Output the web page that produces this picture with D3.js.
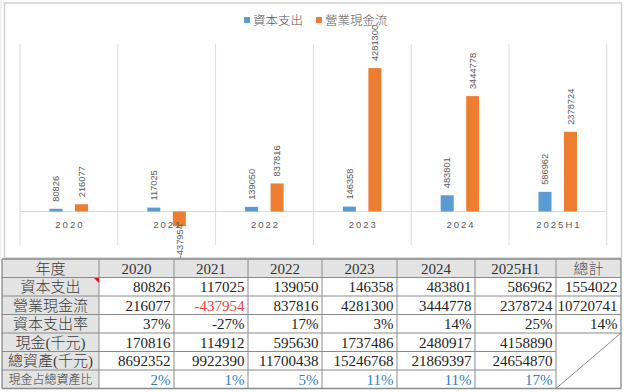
<!DOCTYPE html>
<html><head><meta charset="utf-8">
<script src="https://cdn.jsdelivr.net/npm/d3@7"></script>
<style>body{margin:0;background:#fff}svg{display:block}</style>
</head><body><svg id="c" width="624" height="392"></svg>
<script>
// ---------- data ----------
const categories = ["2020","2021","2022","2023","2024","2025H1"];
const seriesNames = ["資本支出","營業現金流"];
const capex = [80826,117025,139050,146358,483801,586962];
const opCashFlow = [216077,-437954,837816,4281300,3444778,2378724];
const capexRate = ["37%","-27%","17%","3%","14%","25%"];
const cash = [170816,114912,595630,1737486,2480917,4158890];
const totalAssets = [8692352,9922390,11700438,15246768,21869397,24654870];
const cashRatio = ["2%","1%","5%","11%","11%","17%"];
const totalColumn = ["1554022","10720741","14%"];
const headerLabels = ["年度", ...categories, "總計"];
const rowLabels = ["資本支出","營業現金流","資本支出率","現金(千元)","總資產(千元)","現金占總資產比"];
const yDomain = [-1000000, 5000000];

// ---------- chart ----------
const svg = d3.select("#c");
const colors = {"資本支出":"#5b9bd5","營業現金流":"#ed7d31"};
const gray = "#595959";

// outer chart frame
svg.append("line").attr("x1",1).attr("x2",1).attr("y1",0).attr("y2",258).attr("stroke","#e3e3e3");
svg.append("rect").attr("x",4.5).attr("y",3).attr("width",617).attr("height",255)
  .attr("fill","#fff").attr("stroke","#d0d0d0").attr("stroke-width",1.5);

const x0 = d3.scaleBand().domain(categories).range([20, 606.8]);
const bw = x0.bandwidth();
const x1 = d3.scaleBand().domain(seriesNames).range([bw*0.3016, bw*0.6953]).paddingInner(0.49);
const y = d3.scaleLinear().domain(yDomain).range([245, 44]);

// category separator gridlines
const bounds = categories.map(c => x0(c)).concat([x0.range()[1]]);
svg.append("g").selectAll("line").data(bounds).join("line")
  .attr("x1",d=>d).attr("x2",d=>d).attr("y1",y(yDomain[1])).attr("y2",y(yDomain[0]))
  .attr("stroke","#d9d9d9").attr("stroke-width",1);
// zero axis
svg.append("line").attr("x1",x0.range()[0]).attr("x2",x0.range()[1])
  .attr("y1",y(0)).attr("y2",y(0)).attr("stroke","#d9d9d9");

const seriesData = [capex, opCashFlow];
const flat = [];
categories.forEach((c,i)=>seriesNames.forEach((s,j)=>flat.push({c,s,v:seriesData[j][i]})));

svg.append("g").selectAll("rect").data(flat).join("rect")
  .attr("x",d=>x0(d.c)+x1(d.s)).attr("width",x1.bandwidth())
  .attr("y",d=>y(Math.max(0,d.v))).attr("height",d=>Math.abs(y(d.v)-y(0)))
  .attr("fill",d=>colors[d.s]);

// category labels
svg.append("g").selectAll("text").data(categories).join("text")
  .attr("x",d=>x0(d)+bw/2+1).attr("y",y(0)+16.5)
  .attr("text-anchor","middle").attr("font-family","Liberation Sans, Arial, sans-serif")
  .attr("font-size",9.5).attr("letter-spacing","2px").attr("fill",gray).text(d=>d);

// value labels
svg.append("g").selectAll("text").data(flat).join("text")
  .attr("transform",d=>{
    const cx = x0(d.c)+x1(d.s)+x1.bandwidth()/2;
    const yy = d.v>=0 ? y(d.v)-7 : y(d.v)-2;
    return `translate(${cx},${yy}) rotate(-90)`;})
  .attr("text-anchor",d=>d.v>=0?"start":"end").attr("dy","0.35em")
  .attr("font-family","Liberation Sans, Arial, sans-serif").attr("font-size",9.3)
  .attr("fill",gray).text(d=>d.v);

// legend
const lg = svg.append("g");
const legendX = [244, 316];
seriesNames.forEach((s,i)=>{
  lg.append("rect").attr("x",legendX[i]).attr("y",17).attr("width",6).attr("height",6).attr("fill",colors[s]);
  lg.append("text").attr("x",legendX[i]+9).attr("y",24.5)
    .attr("font-family","Liberation Serif, Noto Sans CJK TC, serif").attr("font-size",12.5)
    .attr("font-weight",300).attr("fill",gray).text(s);
});

// ---------- table ----------
const colEdges = [2, 99, 174, 248, 322, 397, 475, 556, 621];
const rowTop = 259, rowH = 18.5, nRows = 7;
const rowEdges = d3.range(nRows+1).map(i=>rowTop+i*rowH);
const tf = "Liberation Serif, Noto Sans CJK TC, serif";
const tg = svg.append("g");

const fmt = v => String(v);
const body = [
  capex.map(fmt).concat([totalColumn[0]]),
  opCashFlow.map(fmt).concat([totalColumn[1]]),
  capexRate.concat([totalColumn[2]]),
  cash.map(fmt).concat([null]),
  totalAssets.map(fmt).concat([null]),
  cashRatio.concat([null])
];

// backgrounds
for (let r=0;r<nRows;r++){
  for (let c=0;c<colEdges.length-1;c++){
    const isHead = r===0 || c===0;
    tg.append("rect").attr("x",colEdges[c]).attr("y",rowEdges[r])
      .attr("width",colEdges[c+1]-colEdges[c]).attr("height",rowH)
      .attr("fill",isHead?"#e3e3e3":"#ffffff");
  }
}
const bc = "#8a8a8a";
// horizontal lines
rowEdges.forEach((ry,i)=>{
  const skipMerged = i>=5 && i<=6;
  tg.append("line").attr("x1",colEdges[0]).attr("x2",skipMerged?colEdges[7]:colEdges[8])
    .attr("y1",ry).attr("y2",ry).attr("stroke",bc).attr("stroke-width",(i===0||i===nRows)?1.3:1);
});
colEdges.forEach((cx,i)=>{
  tg.append("line").attr("x1",cx).attr("x2",cx).attr("y1",rowEdges[0]).attr("y2",rowEdges[nRows])
    .attr("stroke",bc).attr("stroke-width",(i===0||i===colEdges.length-1)?1.3:1);
});
// diagonal in merged total cell
tg.append("line").attr("x1",colEdges[7]).attr("y1",rowEdges[7]).attr("x2",colEdges[8]).attr("y2",rowEdges[4])
  .attr("stroke",bc);
// red comment marker
tg.append("path").attr("d",`M${colEdges[1]-5},${rowEdges[1]+0.5} L${colEdges[1]},${rowEdges[1]+0.5} L${colEdges[1]},${rowEdges[1]+5.5} Z`)
  .attr("fill","#e8161b");

// header row text
headerLabels.forEach((h,c)=>{
  const cjk = c===0 || c===7;
  tg.append("text").attr("x",(colEdges[c]+colEdges[c+1])/2).attr("y",rowEdges[0]+14.5)
    .attr("text-anchor","middle").attr("font-family",tf).attr("font-size",15)
    .attr("font-weight",cjk?300:400).attr("fill", c===7?"#555":(cjk?"#3a3a3a":"#333")).text(h);
});
// row labels
rowLabels.forEach((l,r)=>{
  const small = r===5;
  tg.append("text").attr("x",(colEdges[0]+colEdges[1])/2).attr("y",rowEdges[r+1]+(small?13.5:14.5))
    .attr("text-anchor","middle").attr("font-family",tf).attr("font-size",small?12:15)
    .attr("font-weight",300).attr("fill","#3a3a3a").text(l);
});
// body
body.forEach((row,r)=>{
  row.forEach((v,c)=>{
    if (v===null) return;
    let fill = "#222";
    if (r===1 && +v<0) fill = "#f0403c";
    if (r===5) fill = "#2f7fc6";
    tg.append("text").attr("x",colEdges[c+2]-3.5).attr("y",rowEdges[r+1]+14.5)
      .attr("text-anchor","end").attr("font-family",tf).attr("font-size",15)
      .attr("fill",fill).text(v);
  });
});
</script></body></html>
